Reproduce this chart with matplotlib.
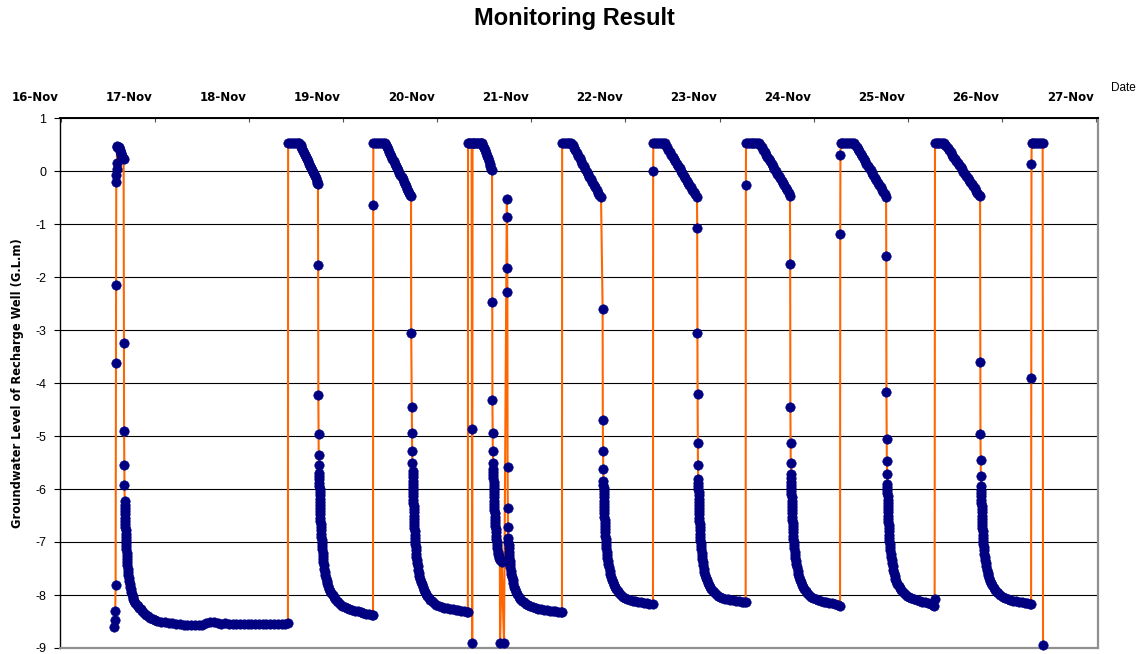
import matplotlib
matplotlib.use("Agg")
import matplotlib.pyplot as plt
import numpy as np

# LOGGER READINGS, ONE BLOCK PER PUMPING CYCLE (DAY OF NOVEMBER, LEVEL IN G.L.m)
nov17_day = [
    16.838, 16.848, 16.853, 16.857, 16.860, 16.862, 16.864, 16.866, 16.868, 16.870, 16.872,
    16.876, 16.882, 16.888, 16.894, 16.900, 16.906, 16.912, 16.918, 16.924, 16.930, 16.936, 16.942,
    16.945, 16.947, 16.949, 16.951, 16.953,
    16.955, 16.956, 16.957, 16.958, 16.959, 16.960, 16.961, 16.962, 16.963, 16.964, 16.965, 16.966,
    16.968, 16.970, 16.972, 16.974, 16.976, 16.978, 16.980, 16.983, 16.986, 16.989, 16.992, 16.996,
    17.000, 17.005, 17.010, 17.016, 17.023, 17.030, 17.038, 17.047, 17.057, 17.068, 17.080, 17.093,
    17.107, 17.122, 17.140, 17.160, 17.180, 17.200, 17.225, 17.250, 17.275, 17.300, 17.340,
    17.38, 17.42, 17.46, 17.50, 17.54, 17.58, 17.62, 17.66, 17.70, 17.74, 17.78, 17.82, 17.86, 17.90,
    17.94, 17.98, 18.02, 18.06, 18.10, 18.14, 18.18, 18.22, 18.26, 18.30, 18.34, 18.38, 18.42, 18.46,
    18.50, 18.54, 18.58, 18.62, 18.66, 18.688,
]
nov17_level = [
    -8.60, -8.48, -8.30, -7.82, -3.62, -2.15, -0.20, -0.08, 0.03, 0.15, 0.45,
    0.47, 0.46, 0.45, 0.43, 0.40, 0.37, 0.34, 0.31, 0.28, 0.26, 0.24, 0.22,
    -3.25, -4.90, -5.55, -5.92, -6.22,
    -6.30, -6.36, -6.42, -6.48, -6.54, -6.60, -6.66, -6.72, -6.78, -6.84, -6.90, -6.96,
    -7.02, -7.08, -7.14, -7.20, -7.26, -7.32, -7.38, -7.44, -7.50, -7.56, -7.62, -7.68,
    -7.74, -7.79, -7.84, -7.89, -7.94, -7.98, -8.03, -8.07, -8.11, -8.15, -8.18, -8.21,
    -8.24, -8.27, -8.31, -8.34, -8.37, -8.40, -8.43, -8.45, -8.47, -8.49, -8.50,
    -8.51, -8.52, -8.53, -8.54, -8.55, -8.56, -8.57, -8.57, -8.57, -8.57, -8.56, -8.53, -8.51, -8.51,
    -8.52, -8.54, -8.53, -8.55, -8.54, -8.55, -8.55, -8.55, -8.55, -8.55, -8.55, -8.55, -8.55, -8.55,
    -8.55, -8.55, -8.55, -8.54, -8.54, -8.53,
]

nov19_day = [
    18.690, 18.710, 18.730, 18.750, 18.770, 18.790, 18.810,
    18.822, 18.832, 18.842, 18.852, 18.862, 18.872, 18.882, 18.892, 18.902, 18.912,
    18.922, 18.932, 18.942, 18.952, 18.962, 18.972, 18.982, 18.992, 19.000, 19.007,
    19.009, 19.011, 19.013, 19.015, 19.017,
    19.019, 19.020, 19.021, 19.022, 19.023, 19.024, 19.025, 19.026, 19.027, 19.028, 19.029, 19.030,
    19.031, 19.032, 19.033, 19.034, 19.036, 19.038, 19.040, 19.042, 19.044, 19.046, 19.048, 19.050,
    19.053, 19.056, 19.059, 19.062, 19.066, 19.070, 19.075, 19.080, 19.086, 19.093, 19.100, 19.108,
    19.117, 19.127, 19.138, 19.150, 19.163, 19.177, 19.192, 19.208, 19.225, 19.245, 19.265, 19.290,
    19.315, 19.340, 19.370, 19.400, 19.430, 19.460, 19.490, 19.520, 19.550, 19.580, 19.592,
]
nov19_level = [
    0.52, 0.52, 0.52, 0.52, 0.52, 0.52, 0.52,
    0.50, 0.46, 0.42, 0.38, 0.34, 0.30, 0.26, 0.22, 0.18, 0.14,
    0.10, 0.06, 0.02, -0.02, -0.06, -0.10, -0.14, -0.18, -0.22, -0.25,
    -1.78, -4.22, -4.97, -5.35, -5.55,
    -5.70, -5.76, -5.82, -5.88, -5.94, -6.00, -6.06, -6.12, -6.18, -6.24, -6.30, -6.36,
    -6.42, -6.48, -6.54, -6.60, -6.66, -6.72, -6.78, -6.84, -6.90, -6.96, -7.02, -7.08,
    -7.14, -7.20, -7.26, -7.32, -7.38, -7.44, -7.50, -7.56, -7.62, -7.68, -7.73, -7.78,
    -7.83, -7.88, -7.92, -7.96, -8.00, -8.04, -8.08, -8.11, -8.14, -8.17, -8.20, -8.22,
    -8.24, -8.26, -8.28, -8.30, -8.31, -8.33, -8.34, -8.35, -8.36, -8.37, -8.38,
]

nov20_day = [
    19.594, 19.596, 19.615, 19.635, 19.655, 19.675, 19.695, 19.715,
    19.727, 19.739, 19.751, 19.763, 19.775, 19.787, 19.799, 19.811, 19.823, 19.835, 19.847, 19.859,
    19.871, 19.883, 19.895, 19.907, 19.919, 19.931, 19.943, 19.955, 19.967, 19.979, 19.990, 19.996,
    19.998, 20.004, 20.006, 20.008, 20.010,
    20.012, 20.013, 20.014, 20.015, 20.016, 20.017, 20.018, 20.019, 20.020, 20.021, 20.022, 20.023,
    20.024, 20.025, 20.026, 20.027, 20.028, 20.030, 20.032, 20.034, 20.036, 20.038, 20.040, 20.042,
    20.045, 20.048, 20.051, 20.054, 20.058, 20.062, 20.067, 20.072, 20.078, 20.085, 20.092, 20.100,
    20.109, 20.119, 20.130, 20.142, 20.155, 20.170, 20.186, 20.203, 20.222, 20.242, 20.265, 20.290,
    20.320, 20.350, 20.380, 20.410, 20.440, 20.470, 20.500, 20.530, 20.560, 20.590, 20.600,
]
nov20_level = [
    -0.65, 0.52, 0.52, 0.52, 0.52, 0.52, 0.52, 0.52,
    0.49, 0.45, 0.41, 0.36, 0.32, 0.28, 0.23, 0.19, 0.14, 0.10, 0.06, 0.01,
    -0.03, -0.08, -0.12, -0.16, -0.21, -0.25, -0.29, -0.34, -0.38, -0.42, -0.46, -0.48,
    -3.06, -4.45, -4.94, -5.28, -5.51,
    -5.66, -5.72, -5.78, -5.84, -5.90, -5.96, -6.02, -6.08, -6.14, -6.20, -6.26, -6.32,
    -6.38, -6.44, -6.50, -6.56, -6.62, -6.68, -6.74, -6.80, -6.86, -6.92, -6.98, -7.04,
    -7.10, -7.16, -7.22, -7.28, -7.34, -7.40, -7.46, -7.52, -7.58, -7.64, -7.70, -7.75,
    -7.80, -7.85, -7.90, -7.94, -7.98, -8.02, -8.06, -8.09, -8.12, -8.15, -8.18, -8.20,
    -8.22, -8.24, -8.25, -8.26, -8.27, -8.28, -8.29, -8.30, -8.31, -8.32, -8.33,
]

nov21_day = [
    20.602, 20.615, 20.628, 20.640, 20.644, 20.646, 20.650, 20.665, 20.680, 20.695, 20.710,
    20.725, 20.740, 20.750,
    20.760, 20.770, 20.780, 20.790, 20.800, 20.810, 20.820, 20.830, 20.840, 20.850, 20.857,
    20.859, 20.861, 20.863, 20.865, 20.867,
    20.869, 20.870, 20.871, 20.872, 20.873, 20.874, 20.875, 20.876, 20.877, 20.878, 20.879, 20.880,
    20.881, 20.882, 20.884, 20.886, 20.888, 20.890, 20.892, 20.894, 20.896, 20.899, 20.902, 20.905,
    20.909, 20.913, 20.918, 20.923, 20.929, 20.935, 20.940, 20.942, 20.960, 20.984,
    21.014, 21.016, 21.018, 21.020, 21.022, 21.024, 21.026, 21.028,
    21.030, 21.032, 21.034, 21.036, 21.039, 21.042, 21.045, 21.049, 21.053, 21.058, 21.063, 21.069,
    21.076, 21.084, 21.093, 21.103, 21.114, 21.127, 21.141, 21.157, 21.175, 21.195, 21.217, 21.240,
    21.265, 21.290, 21.320, 21.350, 21.380, 21.410, 21.440, 21.470, 21.500, 21.530, 21.560, 21.585,
    21.600,
]
nov21_level = [
    0.52, 0.52, 0.52, 0.52, -4.87, -8.90, 0.52, 0.52, 0.52, 0.52, 0.52,
    0.52, 0.52, 0.52,
    0.48, 0.44, 0.39, 0.34, 0.29, 0.24, 0.19, 0.14, 0.09, 0.04, 0.01,
    -2.47, -4.32, -4.94, -5.28, -5.50,
    -5.62, -5.68, -5.74, -5.80, -5.86, -5.92, -5.98, -6.04, -6.10, -6.16, -6.22, -6.28,
    -6.34, -6.40, -6.46, -6.52, -6.58, -6.64, -6.70, -6.76, -6.82, -6.88, -6.94, -7.00,
    -7.06, -7.12, -7.18, -7.23, -7.27, -7.31, -7.34, -8.90, -7.38, -8.90,
    -0.53, -0.87, -1.83, -2.28, -5.58, -6.35, -6.71, -6.92,
    -7.00, -7.06, -7.12, -7.18, -7.24, -7.30, -7.36, -7.42, -7.48, -7.54, -7.60, -7.66,
    -7.72, -7.78, -7.84, -7.89, -7.94, -7.99, -8.03, -8.07, -8.11, -8.14, -8.17, -8.19,
    -8.21, -8.23, -8.25, -8.26, -8.27, -8.28, -8.29, -8.30, -8.31, -8.31, -8.32, -8.32,
    -8.33,
]

nov22_day = [
    21.602, 21.620, 21.640, 21.660, 21.680, 21.700,
    21.712, 21.727, 21.742, 21.757, 21.772, 21.787, 21.802, 21.817, 21.832, 21.847, 21.862,
    21.877, 21.892, 21.907, 21.922, 21.937, 21.952, 21.967, 21.982, 21.997, 22.015,
    22.032, 22.034, 22.036, 22.038, 22.040,
    22.041, 22.042, 22.043, 22.044, 22.045, 22.046, 22.047, 22.048, 22.049, 22.050, 22.051, 22.052,
    22.054, 22.056, 22.058, 22.060, 22.062, 22.064, 22.066, 22.069, 22.072, 22.075, 22.079, 22.083,
    22.088, 22.093, 22.099, 22.106, 22.113, 22.121, 22.130, 22.140, 22.151, 22.163, 22.177, 22.192,
    22.209, 22.228, 22.248, 22.270, 22.295, 22.320, 22.350, 22.380, 22.410, 22.440, 22.470, 22.500,
    22.530, 22.567,
]
nov22_level = [
    0.52, 0.52, 0.52, 0.52, 0.52, 0.52,
    0.49, 0.44, 0.39, 0.34, 0.29, 0.24, 0.19, 0.14, 0.09, 0.04, -0.01,
    -0.06, -0.11, -0.16, -0.21, -0.26, -0.31, -0.36, -0.41, -0.45, -0.49,
    -2.60, -4.70, -5.28, -5.62, -5.85,
    -5.92, -5.98, -6.04, -6.10, -6.16, -6.22, -6.28, -6.34, -6.40, -6.46, -6.52, -6.58,
    -6.64, -6.70, -6.76, -6.82, -6.88, -6.94, -7.00, -7.06, -7.12, -7.18, -7.24, -7.30,
    -7.36, -7.42, -7.48, -7.54, -7.60, -7.66, -7.71, -7.76, -7.81, -7.85, -7.89, -7.93,
    -7.97, -8.00, -8.03, -8.05, -8.07, -8.09, -8.11, -8.12, -8.13, -8.14, -8.15, -8.16,
    -8.17, -8.17,
]

nov23_day = [
    22.569, 22.571, 22.590, 22.610, 22.630, 22.650, 22.670, 22.690,
    22.700, 22.715, 22.730, 22.745, 22.760, 22.775, 22.790, 22.805, 22.820, 22.835, 22.850, 22.865,
    22.880, 22.895, 22.910, 22.925, 22.940, 22.955, 22.970, 22.985, 23.000, 23.015, 23.035,
    23.037, 23.039, 23.041, 23.043, 23.045, 23.047,
    23.048, 23.049, 23.050, 23.051, 23.052, 23.053, 23.054, 23.055, 23.056, 23.057, 23.058, 23.059,
    23.060, 23.062, 23.064, 23.066, 23.068, 23.070, 23.072, 23.074, 23.077, 23.080, 23.083, 23.087,
    23.091, 23.096, 23.101, 23.107, 23.114, 23.121, 23.129, 23.138, 23.148, 23.159, 23.171, 23.185,
    23.200, 23.217, 23.236, 23.257, 23.280, 23.305, 23.330, 23.360, 23.390, 23.420, 23.450, 23.480,
    23.510, 23.535, 23.552,
]
nov23_level = [
    0.00, 0.52, 0.52, 0.52, 0.52, 0.52, 0.52, 0.52,
    0.50, 0.45, 0.40, 0.36, 0.31, 0.27, 0.23, 0.18, 0.14, 0.09, 0.05, 0.00,
    -0.04, -0.09, -0.13, -0.18, -0.22, -0.27, -0.31, -0.36, -0.40, -0.44, -0.49,
    -1.08, -3.05, -4.20, -5.13, -5.55, -5.81,
    -5.88, -5.94, -6.00, -6.06, -6.12, -6.18, -6.24, -6.30, -6.36, -6.42, -6.48, -6.54,
    -6.60, -6.66, -6.72, -6.78, -6.84, -6.90, -6.96, -7.02, -7.08, -7.14, -7.20, -7.26,
    -7.32, -7.38, -7.44, -7.50, -7.56, -7.62, -7.67, -7.72, -7.77, -7.81, -7.85, -7.89,
    -7.92, -7.95, -7.98, -8.01, -8.03, -8.05, -8.07, -8.08, -8.09, -8.10, -8.11, -8.12,
    -8.13, -8.14, -8.14,
]

nov24_day = [
    23.554, 23.556, 23.575, 23.595, 23.615, 23.635, 23.655, 23.675, 23.695,
    23.708, 23.723, 23.738, 23.753, 23.768, 23.783, 23.798, 23.813, 23.828, 23.843, 23.858,
    23.873, 23.888, 23.903, 23.918, 23.933, 23.948, 23.963, 23.978, 23.993, 24.008, 24.023,
    24.025, 24.027, 24.029, 24.031, 24.033,
    24.034, 24.035, 24.036, 24.037, 24.038, 24.039, 24.040, 24.041, 24.042, 24.043, 24.044, 24.045,
    24.046, 24.048, 24.050, 24.052, 24.054, 24.056, 24.058, 24.060, 24.063, 24.066, 24.069, 24.072,
    24.076, 24.080, 24.085, 24.090, 24.096, 24.103, 24.110, 24.118, 24.127, 24.137, 24.148, 24.160,
    24.174, 24.189, 24.206, 24.225, 24.246, 24.270, 24.295, 24.320, 24.350, 24.380, 24.410, 24.440,
    24.470, 24.500, 24.530, 24.555,
]
nov24_level = [
    -0.26, 0.52, 0.52, 0.52, 0.52, 0.52, 0.52, 0.52, 0.52,
    0.49, 0.45, 0.40, 0.36, 0.31, 0.27, 0.22, 0.18, 0.13, 0.09, 0.04,
    0.00, -0.05, -0.09, -0.14, -0.18, -0.23, -0.27, -0.32, -0.36, -0.41, -0.47,
    -1.75, -4.45, -5.13, -5.51, -5.72,
    -5.80, -5.86, -5.92, -5.98, -6.04, -6.10, -6.16, -6.22, -6.28, -6.34, -6.40, -6.46,
    -6.52, -6.58, -6.64, -6.70, -6.76, -6.82, -6.88, -6.94, -7.00, -7.06, -7.12, -7.18,
    -7.24, -7.30, -7.36, -7.42, -7.48, -7.54, -7.60, -7.66, -7.71, -7.76, -7.81, -7.85,
    -7.89, -7.93, -7.97, -8.00, -8.03, -8.06, -8.08, -8.10, -8.12, -8.13, -8.14, -8.15,
    -8.16, -8.17, -8.18, -8.20,
]

nov25_day = [
    24.557, 24.559, 24.561, 24.580, 24.600, 24.620, 24.640, 24.660, 24.680, 24.700,
    24.714, 24.730, 24.745, 24.760, 24.775, 24.790, 24.805, 24.820, 24.835, 24.850, 24.865,
    24.880, 24.895, 24.910, 24.925, 24.940, 24.955, 24.970, 24.985, 25.000, 25.015, 25.030, 25.044,
    25.046, 25.048, 25.050, 25.052, 25.054, 25.056,
    25.057, 25.058, 25.059, 25.060, 25.061, 25.062, 25.063, 25.064, 25.065, 25.066, 25.067, 25.068,
    25.070, 25.072, 25.074, 25.076, 25.078, 25.080, 25.083, 25.086, 25.089, 25.093, 25.097, 25.102,
    25.107, 25.113, 25.120, 25.127, 25.135, 25.144, 25.154, 25.165, 25.177, 25.190, 25.205, 25.222,
    25.241, 25.262, 25.285, 25.310, 25.340, 25.370, 25.400, 25.430, 25.460, 25.490, 25.520, 25.545,
    25.555, 25.560,
]
nov25_level = [
    -1.19, 0.30, 0.52, 0.52, 0.52, 0.52, 0.52, 0.52, 0.52, 0.52,
    0.50, 0.46, 0.41, 0.37, 0.32, 0.28, 0.23, 0.19, 0.14, 0.10, 0.05,
    0.01, -0.04, -0.08, -0.13, -0.17, -0.22, -0.26, -0.31, -0.35, -0.40, -0.44, -0.49,
    -1.60, -4.17, -5.05, -5.47, -5.72, -5.90,
    -5.96, -6.02, -6.08, -6.14, -6.20, -6.26, -6.32, -6.38, -6.44, -6.50, -6.56, -6.62,
    -6.68, -6.74, -6.80, -6.86, -6.92, -6.98, -7.04, -7.10, -7.16, -7.22, -7.28, -7.34,
    -7.40, -7.46, -7.52, -7.58, -7.64, -7.69, -7.74, -7.79, -7.83, -7.87, -7.91, -7.95,
    -7.98, -8.01, -8.04, -8.06, -8.08, -8.10, -8.12, -8.13, -8.14, -8.16, -8.17, -8.19,
    -8.20, -8.07,
]

nov26_day = [
    25.564, 25.580, 25.600, 25.620, 25.640, 25.660,
    25.672, 25.685, 25.700, 25.715, 25.730, 25.745, 25.760, 25.775, 25.790, 25.805, 25.820,
    25.835, 25.850, 25.865, 25.880, 25.895, 25.910, 25.925, 25.940, 25.955, 25.970, 25.985,
    26.000, 26.015, 26.030, 26.043,
    26.045, 26.047, 26.049, 26.051, 26.053,
    26.054, 26.055, 26.056, 26.057, 26.058, 26.059, 26.060, 26.061, 26.062, 26.063, 26.064, 26.066,
    26.068, 26.070, 26.072, 26.074, 26.076, 26.079, 26.082, 26.085, 26.089, 26.093, 26.098, 26.103,
    26.109, 26.116, 26.123, 26.131, 26.140, 26.150, 26.161, 26.173, 26.187, 26.202, 26.219, 26.238,
    26.259, 26.282, 26.307, 26.335, 26.365, 26.395, 26.425, 26.455, 26.485, 26.515, 26.545, 26.570,
    26.585,
]
nov26_level = [
    0.52, 0.52, 0.52, 0.52, 0.52, 0.52,
    0.50, 0.47, 0.43, 0.39, 0.35, 0.31, 0.27, 0.23, 0.19, 0.15, 0.11,
    0.07, 0.03, -0.01, -0.05, -0.09, -0.13, -0.17, -0.21, -0.25, -0.29, -0.33,
    -0.37, -0.41, -0.45, -0.48,
    -3.60, -4.97, -5.45, -5.75, -5.95,
    -6.02, -6.08, -6.14, -6.20, -6.26, -6.32, -6.38, -6.44, -6.50, -6.56, -6.62, -6.68,
    -6.74, -6.80, -6.86, -6.92, -6.98, -7.04, -7.10, -7.16, -7.22, -7.28, -7.34, -7.40,
    -7.46, -7.52, -7.58, -7.63, -7.68, -7.73, -7.78, -7.82, -7.86, -7.90, -7.94, -7.97,
    -8.00, -8.03, -8.05, -8.07, -8.09, -8.11, -8.12, -8.13, -8.14, -8.15, -8.16, -8.17,
    -8.17,
]

nov27_day = [26.587, 26.589, 26.591, 26.610, 26.630, 26.650, 26.670, 26.690, 26.708, 26.712]
nov27_level = [-3.90, 0.13, 0.52, 0.52, 0.52, 0.52, 0.52, 0.52, 0.52, -8.94]

# AXIS TEXT
label_days = list(range(16, 28))
date_labels = [f"{d}-Nov" for d in label_days]
level_ticks = list(range(-9, 2))

# JOIN THE CYCLES INTO ONE SERIES
day_blocks = [nov17_day, nov19_day, nov20_day, nov21_day, nov22_day,
              nov23_day, nov24_day, nov25_day, nov26_day, nov27_day]
level_blocks = [nov17_level, nov19_level, nov20_level, nov21_level, nov22_level,
                nov23_level, nov24_level, nov25_level, nov26_level, nov27_level]
for d_block, l_block in zip(day_blocks, level_blocks):
    assert len(d_block) == len(l_block), (d_block[0], len(d_block), len(l_block))
day = np.concatenate(day_blocks)
level = np.concatenate(level_blocks)

plt.rcParams["axes.unicode_minus"] = False
plt.rcParams["font.family"] = ["Liberation Sans", "DejaVu Sans"]

W, H = 1144, 654
fig = plt.figure(figsize=(W / 100, H / 100), dpi=100)
ax = fig.add_axes([60 / W, 6 / H, 1038 / W, 530 / H])

ax.plot(day, level, color="#FF6600", lw=1.5, marker="o", ms=6.8,
        mfc="#000080", mec="#000080", mew=0.4, clip_on=False, zorder=3)

ax.set_xlim(16.266, 27.296)
ax.set_ylim(-9, 1)

# Y AXIS ON THE LEFT, HORIZONTAL GRID AT EVERY METRE
ax.set_yticks(level_ticks)
ax.set_yticklabels([str(v) for v in level_ticks])
ax.tick_params(axis="y", direction="out", length=4, width=0.8, labelsize=9, pad=6,
               colors="black")
ax.yaxis.grid(True, color="black", lw=0.8)
ax.set_axisbelow(True)

# DATE AXIS ON TOP: SHORT INWARD TICKS, LABELS CENTRED ON EACH DAY
ax.xaxis.set_ticks_position("top")
ax.set_xticks([d + 0.275 for d in label_days if d + 0.275 < 27.29])
ax.tick_params(axis="x", direction="in", length=3, width=0.8, labeltop=False,
               labelbottom=False, colors="#505050")
for d, txt in zip(label_days, date_labels):
    ax.text(d, 1.038, txt, transform=ax.get_xaxis_transform(), ha="center", va="center",
            fontsize=8.5, fontweight="bold", family="DejaVu Sans", clip_on=False)

for side in ("bottom", "right"):
    ax.spines[side].set_color("#909090")
    ax.spines[side].set_linewidth(1.6)
ax.spines["top"].set_color("black")
ax.spines["top"].set_linewidth(1.4)
ax.spines["left"].set_color("black")
ax.spines["left"].set_linewidth(1.0)

fig.text(574 / W, 1 - 18 / H, "Monitoring Result", ha="center", va="center",
         fontsize=17, fontweight="bold")
fig.text(1123 / W, 1 - 88 / H, "Date", ha="center", va="center", fontsize=8.5)
fig.text(18 / W, 1 - 383 / H, "Groundwater Level of Recharge Well (G.L.m)", rotation=90,
         ha="center", va="center", fontsize=8.3, fontweight="bold", family="DejaVu Sans")

fig.savefig("out.png", dpi=100)
